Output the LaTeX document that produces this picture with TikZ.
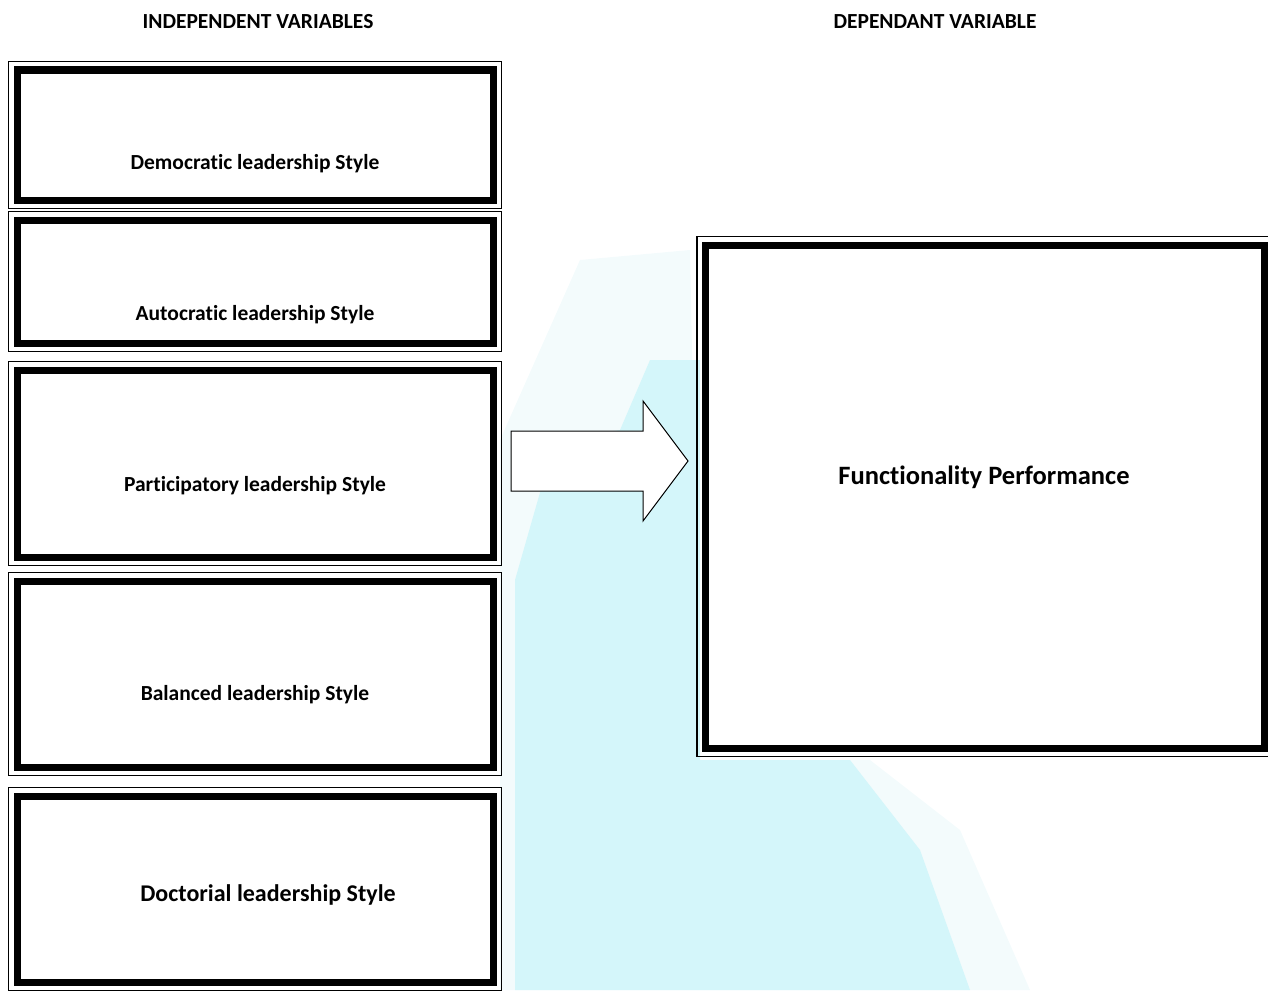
\documentclass[tikz,border=0pt]{standalone}
\usepackage{fontspec}
\setmainfont{Carlito}[Ligatures=NoCommon]
\definecolor{wmcyan}{RGB}{212,246,250}
\definecolor{wmpale}{RGB}{243,251,252}
\begin{document}
\begin{tikzpicture}[x=1pt,y=-1pt,
  box/.style={draw, line width=7pt, fill=white, inner sep=0pt, outer sep=0pt},
  frame/.style={line width=1.2pt},
  lbl/.style={font=\bfseries\fontsize{21.5}{25}\selectfont},
  big/.style={font=\bfseries\fontsize{24}{29}\selectfont}]
\useasboundingbox (0,0) rectangle (1268,990);

% watermark behind everything
\fill[wmpale] (580,260) -- (690,250) -- (700,760) -- (870,760) -- (960,830) -- (1030,990) -- (500,990) -- (500,440) -- cycle;
\fill[wmcyan] (650,360) -- (700,360) -- (700,760) -- (850,760) -- (920,850) -- (970,990) -- (515,990) -- (515,580) -- (555,440) -- (620,430) -- cycle;

\node[lbl] (h1) at (258,22) {INDEPENDENT VARIABLES};
\node[lbl] (h2) at (935,22) {DEPENDANT VARIABLE};

\node[box, minimum width=476pt, minimum height=130pt] (1) at (255,135) {};
\node[box, minimum width=476pt, minimum height=123pt] (2) at (255,281.5) {};
\node[box, minimum width=476pt, minimum height=187pt] (3) at (255,463.5) {};
\node[box, minimum width=476pt, minimum height=186pt] (4) at (255,674) {};
\node[box, minimum width=476pt, minimum height=186pt] (5) at (255,889) {};
\node[box, minimum width=559pt, minimum height=503pt] (6) at (985,496.5) {};

\draw[frame] ([shift={(-8.5pt,8.5pt)}]1.north west) rectangle ([shift={(8.5pt,-8.5pt)}]1.south east);
\draw[frame] ([shift={(-8.5pt,8.5pt)}]2.north west) rectangle ([shift={(8.5pt,-8.5pt)}]2.south east);
\draw[frame] ([shift={(-8.5pt,8.5pt)}]3.north west) rectangle ([shift={(8.5pt,-8.5pt)}]3.south east);
\draw[frame] ([shift={(-8.5pt,8.5pt)}]4.north west) rectangle ([shift={(8.5pt,-8.5pt)}]4.south east);
\draw[frame] ([shift={(-8.5pt,8.5pt)}]5.north west) rectangle ([shift={(8.5pt,-8.5pt)}]5.south east);
\draw[frame] ([shift={(-8.5pt,8.5pt)}]6.north west) rectangle ([shift={(8.5pt,-8.5pt)}]6.south east);

\node[lbl] (t1) at (255,164) {Democratic leadership Style};
\node[lbl] (t2) at (255,315) {Autocratic leadership Style};
\node[lbl] (t3) at (255,486) {Participatory leadership Style};
\node[lbl] (t4) at (255,695) {Balanced leadership Style};
\node[big] (t5) at (268,895) {Doctorial leadership Style};
\node[big, font=\bfseries\fontsize{26.5}{32}\selectfont] (t6) at (984,477) {Functionality Performance};

% block arrow
\draw[line width=1pt, fill=white, line join=miter] (511,431) -- (643,431) -- (643,401) -- (688,461) -- (643,521) -- (643,491) -- (511,491) -- cycle;
\end{tikzpicture}
\end{document}
